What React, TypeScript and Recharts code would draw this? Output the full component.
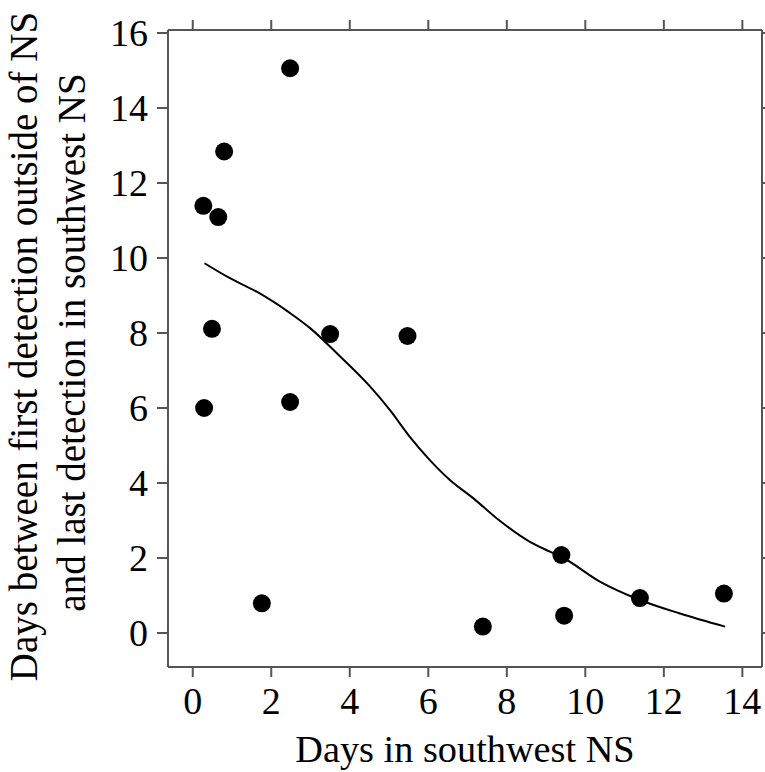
import React from 'react';
import { ComposedChart, XAxis, YAxis, Scatter, Line, Customized } from 'recharts';

const xTicks = [0, 2, 4, 6, 8, 10, 12, 14];
const yTicks = [0, 2, 4, 6, 8, 10, 12, 14, 16];
const xDomain: [number, number] = [-0.63, 14.5];
const yDomain: [number, number] = [-0.907, 16.08];

const pointX = [0.27, 0.65, 0.80, 2.48, 0.49, 0.29, 2.48, 3.50, 5.47, 1.76, 7.39, 9.39, 9.46, 11.39, 13.53];
const pointY = [11.39, 11.09, 12.84, 15.06, 8.11, 6.0, 6.16, 7.97, 7.92, 0.79, 0.17, 2.08, 0.46, 0.93, 1.05];

const curveX = [0.30, 0.95, 1.63, 2.48, 2.99, 3.67, 4.52, 5.02, 5.53, 6.04, 6.55, 7.15, 7.74, 8.59, 9.10, 9.41, 10.37, 11.39, 12.41, 13.56];
const curveY = [9.86, 9.46, 9.10, 8.53, 8.13, 7.46, 6.57, 5.95, 5.23, 4.61, 4.08, 3.59, 3.06, 2.43, 2.17, 2.02, 1.37, 0.88, 0.52, 0.17];

const points = pointX.map((x, i) => ({ x, y: pointY[i] }));
const curve = curveX.map((x, i) => ({ x, y: curveY[i] }));

const FONT = "'Liberation Serif', 'Times New Roman', Times, serif";
const AXIS = '#555555';
const tickStyle = { fontFamily: FONT, fontSize: 38, fill: '#000000' };
const hiddenTick = { fill: 'none', fontSize: 10 };
const blankLabel = () => '';

const Dot = (props: any) => <circle cx={props.cx} cy={props.cy} r={9} fill="#000000" />;

const Titles = () => (
  <g style={{ fontFamily: FONT }} fill="#000000">
    <text x={465} y={762} textAnchor="middle" fontSize={38.3} style={{ fontFamily: FONT }}>Days in southwest NS</text>
    <text transform="translate(37,346.5) rotate(-90)" textAnchor="middle" fontSize={39} style={{ fontFamily: FONT }}>Days between first detection outside of NS</text>
    <text transform="translate(85,342.5) rotate(-90)" textAnchor="middle" fontSize={39} style={{ fontFamily: FONT }}>and last detection in southwest NS</text>
  </g>
);

export default function App() {
  return (
    <div style={{ position: 'absolute', left: 0, top: 0, background: '#ffffff', fontFamily: FONT }}>
      <ComposedChart width={765} height={772} margin={{ top: 10, right: -17, left: 0, bottom: 0 }} style={{ fontFamily: FONT }}>
        <XAxis
          xAxisId={0}
          type="number"
          dataKey="x"
          domain={xDomain}
          ticks={xTicks}
          allowDataOverflow
          height={105}
          tickSize={10}
          tickMargin={10}
          axisLine={{ stroke: AXIS, strokeWidth: 2 }}
          tickLine={{ stroke: AXIS, strokeWidth: 2 }}
          tick={tickStyle}
          interval={0}
        />
        <XAxis
          xAxisId={1}
          orientation="top"
          type="number"
          dataKey="x"
          domain={xDomain}
          ticks={xTicks}
          allowDataOverflow
          height={20}
          tickSize={10}
          axisLine={{ stroke: AXIS, strokeWidth: 2 }}
          tickLine={{ stroke: AXIS, strokeWidth: 2 }}
          tick={hiddenTick}
          tickFormatter={blankLabel}
          interval={0}
        />
        <YAxis
          yAxisId={0}
          type="number"
          dataKey="y"
          domain={yDomain}
          ticks={yTicks}
          allowDataOverflow
          width={168}
          tickSize={11}
          tickMargin={9}
          axisLine={{ stroke: AXIS, strokeWidth: 2 }}
          tickLine={{ stroke: AXIS, strokeWidth: 2 }}
          tick={tickStyle}
          interval={0}
        />
        <YAxis
          yAxisId={1}
          orientation="right"
          type="number"
          dataKey="y"
          domain={yDomain}
          ticks={yTicks}
          allowDataOverflow
          width={20}
          tickSize={10}
          axisLine={{ stroke: AXIS, strokeWidth: 2 }}
          tickLine={{ stroke: AXIS, strokeWidth: 2 }}
          tick={hiddenTick}
          tickFormatter={blankLabel}
          interval={0}
        />
        <Line
          xAxisId={0}
          yAxisId={0}
          data={curve}
          dataKey="y"
          type="monotone"
          stroke="#000000"
          strokeWidth={2}
          dot={false}
          activeDot={false}
          isAnimationActive={false}
        />
        <Line
          xAxisId={1}
          yAxisId={1}
          data={curve}
          dataKey="y"
          type="monotone"
          stroke="none"
          dot={false}
          activeDot={false}
          isAnimationActive={false}
        />
        <Scatter
          xAxisId={0}
          yAxisId={0}
          data={points}
          dataKey="y"
          shape={Dot}
          isAnimationActive={false}
        />
        <Customized component={Titles} />
      </ComposedChart>
    </div>
  );
}
